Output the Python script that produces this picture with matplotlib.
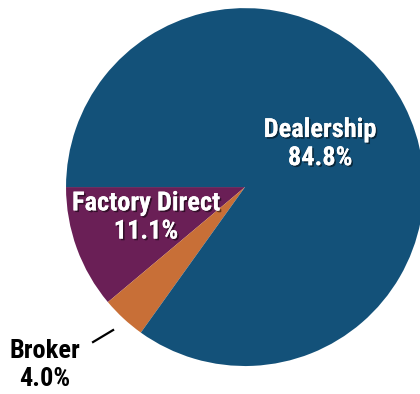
import matplotlib
matplotlib.use('Agg')
import matplotlib.pyplot as plt
import matplotlib.patheffects as pe

categories = ['Factory Direct', 'Broker', 'Dealership']
shares = [11.1, 4.0, 84.8]
colors = ['#6a1f56', '#c86f37', '#135179']

plt.rcParams['font.family'] = ['Roboto Condensed', 'Liberation Sans Narrow', 'Roboto', 'DejaVu Sans']

fig = plt.figure(figsize=(4.2, 3.94), dpi=100)
ax = fig.add_axes([0, 0, 1, 1])
ax.axis('off')

wedges, _ = ax.pie(shares, colors=colors, startangle=180, counterclock=True,
                   wedgeprops=dict(linewidth=0))

ax.set_xlim(-1.369, 0.978)
ax.set_ylim(-1.156, 1.045)

shadow = [pe.withSimplePatchShadow(offset=(1.2, -1.2), shadow_rgbFace='black', alpha=0.5),
          pe.Normal()]

label_pos = {'Factory Direct': (-0.553, -0.17),
             'Broker': (-1.117, -0.995),
             'Dealership': (0.42, 0.24)}
for name, val in zip(categories, shares):
    x, y = label_pos[name]
    if name == 'Broker':
        ax.text(x, y, f'{name}\n{val:.1f}%', ha='center', va='center', fontsize=19,
                fontweight='bold', color='black', linespacing=1.22)
    else:
        ax.text(x, y, f'{name}\n{val:.1f}%', ha='center', va='center', fontsize=19,
                fontweight='bold', color='white', linespacing=1.22, path_effects=shadow)

# leader line for the small slice
ax.plot([-0.849, -0.737], [-0.866, -0.799], color='black', lw=1.6)

fig.savefig('out.png', dpi=100)
